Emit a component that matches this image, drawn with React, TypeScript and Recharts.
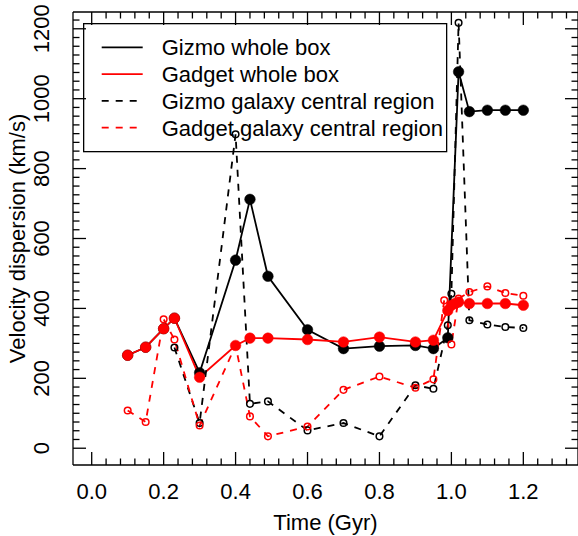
import React from 'react';
import { LineChart, Line, XAxis, YAxis, Legend, ReferenceLine } from 'recharts';

// ---------- data ----------
const gizmoWholeTime = [0.1, 0.15, 0.2, 0.23, 0.3, 0.4, 0.44, 0.49, 0.6, 0.7, 0.8, 0.9, 0.95, 0.99, 1.02, 1.05, 1.1, 1.15, 1.2];
const gizmoWholeVal = [266, 289, 342, 372, 216, 538, 712, 492, 339, 285, 292, 294, 285, 316, 1077, 963, 967, 967, 967];

const gadgetWholeTime = [0.1, 0.15, 0.2, 0.23, 0.3, 0.4, 0.44, 0.49, 0.6, 0.7, 0.8, 0.9, 0.95, 0.99, 1.0, 1.01, 1.02, 1.05, 1.1, 1.15, 1.2];
const gadgetWholeVal = [266, 289, 342, 372, 203, 294, 315, 315, 311, 304, 318, 304, 309, 394, 409, 414, 418, 414, 414, 414, 409];

const gizmoGalaxyTime = [0.23, 0.3, 0.4, 0.44, 0.49, 0.6, 0.7, 0.8, 0.9, 0.95, 0.99, 1.0, 1.02, 1.05, 1.1, 1.15, 1.2];
const gizmoGalaxyVal = [288, 72, 898, 127, 134, 51, 72, 34, 180, 170, 352, 442, 1217, 366, 354, 347, 344];

const gadgetGalaxyTime = [0.1, 0.15, 0.2, 0.23, 0.3, 0.4, 0.44, 0.49, 0.6, 0.7, 0.8, 0.9, 0.95, 0.98, 1.0, 1.02, 1.05, 1.1, 1.15, 1.2];
const gadgetGalaxyVal = [108, 75, 369, 311, 65, 294, 91, 34, 62, 167, 205, 173, 197, 423, 297, 428, 447, 463, 444, 436];

const seriesNames = ['Gizmo whole box', 'Gadget whole box', 'Gizmo galaxy central region', 'Gadget galaxy central region'];

const xMajorTicks = [0, 0.2, 0.4, 0.6, 0.8, 1.0, 1.2];
const xTickLabels = ['0.0', '0.2', '0.4', '0.6', '0.8', '1.0', '1.2'];
const yMajorTicks = [0, 200, 400, 600, 800, 1000, 1200];
const yTickLabels = ['0', '200', '400', '600', '800', '1000', '1200'];
// all tick positions (major + minor)
const xAllTicks = Array.from({ length: 34 }, (_, i) => Math.round(i * 4) / 100);
const yAllTicks = Array.from({ length: 50 }, (_, i) => i * 25);

const xTitle = 'Time (Gyr)';
const yTitle = 'Velocity dispersion (km/s)';

// ---------- helpers ----------
const toPoints = (ts: number[], vs: number[]) => ts.map((t, i) => ({ t, v: vs[i] }));
const gizmoWhole = toPoints(gizmoWholeTime, gizmoWholeVal);
const gadgetWhole = toPoints(gadgetWholeTime, gadgetWholeVal);
const gizmoGalaxy = toPoints(gizmoGalaxyTime, gizmoGalaxyVal);
const gadgetGalaxy = toPoints(gadgetGalaxyTime, gadgetGalaxyVal);

const FONT = '"Liberation Sans", Arial, Helvetica, sans-serif';
const FS_TICK = 22;
const FS_LAB = 22;
const X_DOMAIN: [number, number] = [-0.052, 1.352];
const Y_DOMAIN: [number, number] = [-48, 1248];
const RED = '#FF0000';
const BLACK = '#000000';
const DASH = '7 7';
const LW = 1.8;
const AXW = 1.3;
const AX = { stroke: BLACK, strokeWidth: AXW };

// frame geometry (chart layout)
const CH_W = 578;
const CH_H = 536;
const M_TOP = 12;
const Y_AXIS_W = 73;
const X_AXIS_H = 71;
const PLOT_TOP = M_TOP;
const PLOT_BOTTOM = CH_H - X_AXIS_H;
const PLOT_LEFT = Y_AXIS_W;
const PLOT_RIGHT = CH_W;
const X_TICK_MARGIN = 18;
const Y_TICK_MARGIN = 24;
const MAJOR_LEN = 13;
const MINOR_LEN = 6.5;

const seriesStyle = [
  { color: BLACK, dashed: false },
  { color: RED, dashed: false },
  { color: BLACK, dashed: true },
  { color: RED, dashed: true },
];

const XTick = (props: any) => {
  const { x, payload } = props;
  const idx = xMajorTicks.indexOf(payload.value);
  const len = idx >= 0 ? MAJOR_LEN : MINOR_LEN;
  return (
    <g>
      <line x1={x} x2={x} y1={PLOT_BOTTOM} y2={PLOT_BOTTOM - len} stroke={BLACK} strokeWidth={AXW} />
      <line x1={x} x2={x} y1={PLOT_TOP} y2={PLOT_TOP + len} stroke={BLACK} strokeWidth={AXW} />
      {idx >= 0 && (
        <text x={x} y={PLOT_BOTTOM + X_TICK_MARGIN + 15.5} textAnchor="middle" fontSize={FS_TICK} fontFamily={FONT} fill={BLACK}>
          {xTickLabels[idx]}
        </text>
      )}
    </g>
  );
};

const YTick = (props: any) => {
  const { y, payload } = props;
  const idx = yMajorTicks.indexOf(payload.value);
  const len = idx >= 0 ? MAJOR_LEN : MINOR_LEN;
  const tx = PLOT_LEFT - Y_TICK_MARGIN;
  return (
    <g>
      <line x1={PLOT_LEFT} x2={PLOT_LEFT + len} y1={y} y2={y} stroke={BLACK} strokeWidth={AXW} />
      <line x1={PLOT_RIGHT} x2={PLOT_RIGHT - len} y1={y} y2={y} stroke={BLACK} strokeWidth={AXW} />
      {idx >= 0 && (
        <text x={tx} y={y} transform={`rotate(-90, ${tx}, ${y})`} textAnchor="middle" fontSize={FS_TICK} fontFamily={FONT} fill={BLACK}>
          {yTickLabels[idx]}
        </text>
      )}
    </g>
  );
};

const XTitle = (props: any) => {
  const vb = props.viewBox || { x: PLOT_LEFT, y: PLOT_BOTTOM, width: PLOT_RIGHT - PLOT_LEFT, height: X_AXIS_H };
  const cx = vb.x + vb.width / 2;
  return (
    <text x={cx} y={530} textAnchor="middle" fontSize={FS_LAB} fontFamily={FONT} fill={BLACK}>
      {xTitle}
    </text>
  );
};

const YTitle = (props: any) => {
  const vb = props.viewBox || { x: 0, y: PLOT_TOP, width: Y_AXIS_W, height: PLOT_BOTTOM - PLOT_TOP };
  const cy = vb.y + vb.height / 2;
  const x = 25;
  return (
    <text x={x} y={cy} transform={`rotate(-90, ${x}, ${cy})`} textAnchor="middle" fontSize={FS_LAB} fontFamily={FONT} fill={BLACK}>
      {yTitle}
    </text>
  );
};

const LegendBox = () => {
  const rows = [24.3, 51.1, 77.9, 104.7];
  return (
    <svg width={364} height={130} style={{ display: 'block', overflow: 'visible' }}>
      <rect x={0.65} y={0.65} width={363} height={128} fill="none" stroke={BLACK} strokeWidth={1.3} />
      {seriesNames.map((name, i) => (
        <g key={name}>
          <line
            x1={18.7}
            x2={59.7}
            y1={rows[i]}
            y2={rows[i]}
            stroke={seriesStyle[i].color}
            strokeWidth={LW}
            strokeDasharray={seriesStyle[i].dashed ? DASH : undefined}
          />
          <text x={78.7} y={rows[i] + 7.9} fontSize={FS_LAB} fontFamily={FONT} fill={BLACK}>
            {name}
          </text>
        </g>
      ))}
    </svg>
  );
};

export default function App() {
  return (
    <div style={{ position: 'absolute', left: 0, top: 0, width: CH_W, height: CH_H, background: '#fff' }}>
      <LineChart width={CH_W} height={CH_H} margin={{ top: M_TOP, right: 0, bottom: 0, left: 0 }}>
        <XAxis
          xAxisId="x"
          type="number"
          dataKey="t"
          domain={X_DOMAIN}
          allowDataOverflow
          ticks={xAllTicks}
          interval={0}
          height={X_AXIS_H}
          tickLine={false}
          tickSize={0}
          tickMargin={X_TICK_MARGIN}
          axisLine={AX}
          tick={<XTick />}
          label={{ content: <XTitle /> }}
        />
        <YAxis
          yAxisId="y"
          type="number"
          domain={Y_DOMAIN}
          allowDataOverflow
          ticks={yAllTicks}
          interval={0}
          width={Y_AXIS_W}
          tickLine={false}
          tickSize={0}
          tickMargin={Y_TICK_MARGIN}
          axisLine={AX}
          tick={<YTick />}
          label={{ content: <YTitle /> }}
        />
        <ReferenceLine xAxisId="x" yAxisId="y" y={Y_DOMAIN[1]} stroke={BLACK} strokeWidth={AXW} />
        <ReferenceLine xAxisId="x" yAxisId="y" x={X_DOMAIN[1]} stroke={BLACK} strokeWidth={AXW} />

        <Legend
          layout="vertical"
          verticalAlign="middle"
          align="center"
          content={<LegendBox />}
          wrapperStyle={{ position: 'absolute', left: 83, top: 23, width: 364, height: 130, margin: 0, padding: 0 }}
        />

        <Line
          name={seriesNames[0]}
          data={gizmoWhole}
          dataKey="v"
          xAxisId="x"
          yAxisId="y"
          type="linear"
          stroke={BLACK}
          strokeWidth={LW}
          dot={{ r: 5.3, fill: BLACK, stroke: BLACK, strokeWidth: 0.5, strokeDasharray: 'none' }}
          activeDot={false}
          isAnimationActive={false}
        />
        <Line
          name={seriesNames[1]}
          data={gadgetWhole}
          dataKey="v"
          xAxisId="x"
          yAxisId="y"
          type="linear"
          stroke={RED}
          strokeWidth={LW}
          dot={{ r: 5.3, fill: RED, stroke: RED, strokeWidth: 0.5, strokeDasharray: 'none' }}
          activeDot={false}
          isAnimationActive={false}
        />
        <Line
          name={seriesNames[2]}
          data={gizmoGalaxy}
          dataKey="v"
          xAxisId="x"
          yAxisId="y"
          type="linear"
          stroke={BLACK}
          strokeWidth={LW}
          strokeDasharray={DASH}
          dot={{ r: 3.3, fill: 'none', stroke: BLACK, strokeWidth: 1.5, strokeDasharray: 'none' }}
          activeDot={false}
          isAnimationActive={false}
        />
        <Line
          name={seriesNames[3]}
          data={gadgetGalaxy}
          dataKey="v"
          xAxisId="x"
          yAxisId="y"
          type="linear"
          stroke={RED}
          strokeWidth={LW}
          strokeDasharray={DASH}
          dot={{ r: 3.3, fill: 'none', stroke: RED, strokeWidth: 1.5, strokeDasharray: 'none' }}
          activeDot={false}
          isAnimationActive={false}
        />
      </LineChart>
    </div>
  );
}
